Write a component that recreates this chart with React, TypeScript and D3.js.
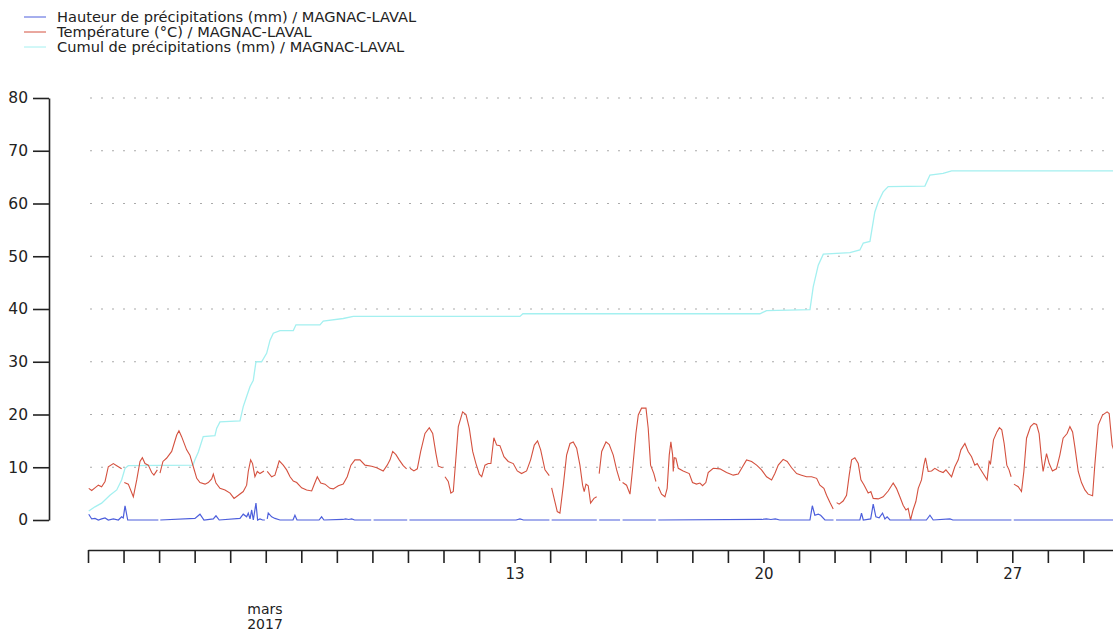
import React, { useEffect, useRef } from "react";
import * as d3 from "d3";

type Pt = [number, number | null];

// hours since 1 March 2017 00:00 UTC
const START_UTC = Date.UTC(2017, 2, 1);
const END_UTC = Date.UTC(2017, 2, 30);

const Y_TICKS = [0, 10, 20, 30, 40, 50, 60, 70, 80];
const GRID_VALUES = [10, 20, 30, 40, 50, 60, 70, 80];
const LABELED_DAYS = [13, 20, 27];
const MONTH_LABEL = ["mars", "2017"];

const SERIES_NAMES = [
  "Hauteur de précipitations (mm) / MAGNAC-LAVAL",
  "Température (°C) / MAGNAC-LAVAL",
  "Cumul de précipitations (mm) / MAGNAC-LAVAL",
];
const SERIES_COLORS = ["#4d5fdc", "#d4513f", "#a4f0f0"];

const precipitation: Pt[] = [
  [0.5, 1.1], [2.5, 0.2], [4.7, 0.3], [7, 0], [9.2, 0.2], [11.5, 0.4], [13.7, 0], [17.1, 0.2],
  [20.5, 0], [22.7, 0.6], [23.8, 0.4], [25, 2.7], [26.8, 0], [47.5, 0], [48, null], [48.8, 0],
  [72.2, 0.3], [75.6, 1.1], [78.3, 0], [84.6, 0.2], [86.4, 0.8], [88.6, 0], [102.6, 0.3],
  [104.8, 1.1], [107.1, 0.6], [108.2, 1.3], [109.4, 0.2], [110.5, 1.9], [111.6, 0], [113.4, 3.2],
  [114.5, 0], [116.1, 0.2], [117.9, 0], [119.4, 0], [120, null], [121, 0.2], [121.7, 1.3],
  [124, 0.6], [126.2, 0.3], [129.6, 0], [138.4, 0], [139.7, 0.9], [141.1, 0], [156, 0],
  [157.7, 0.6], [159.3, 0], [172, 0.1], [174, 0.2], [176, 0.1], [178, 0.2], [180, 0],
  [191.2, 0], [192, null], [192.8, 0], [215.5, 0], [216.2, null], [217, 0], [289, 0],
  [291.6, 0.2], [294, 0], [311.5, 0], [312.2, null], [313, 0], [343.5, 0], [344.3, null],
  [345.1, 0], [359.2, 0], [360, null], [360.9, 0], [383.4, 0], [384.2, null], [385, 0],
  [455, 0.1], [458, 0.2], [461, 0.1], [464, 0.2], [467, 0], [487.4, 0], [489, 2.7], [490.7, 0.9],
  [493, 1.1], [494.6, 0.9], [497.5, 0], [503.3, 0], [504.2, null], [505, 0], [521.1, 0],
  [522.2, 1.3], [523.4, 0], [528.4, 0.2], [530.1, 3.0], [531.9, 0.6], [534.1, 0.4], [536.4, 1.3],
  [538, 0.2], [539.5, 0.6], [541.4, 0], [566, 0], [568.4, 0.9], [570.6, 0], [581.9, 0.2],
  [583.9, 0], [623.4, 0], [624.2, null], [625, 0], [696, 0],
];

const temperature: Pt[] = [
  [0.5, 6.0], [2.5, 5.6], [4.7, 6.1], [7, 6.6], [9.2, 6.3], [11.5, 7.3], [13.7, 10.1], [17.1, 10.7],
  [19.4, 10.3], [22.7, 9.7], [23.6, null], [24.5, 7.1], [27.2, 6.8], [30.6, 4.4], [32.9, 7.6],
  [35.1, 11.1], [36.7, 11.8], [38.5, 10.7], [40.7, 10.4], [43, 9.0], [44.5, 8.5], [46.8, 9.5],
  [47.8, null], [48.6, 8.9], [50.6, 11.1], [53, 11.7], [56.5, 13.0], [59.9, 16.1], [61.4, 16.9],
  [63.2, 15.8], [66.6, 13.3], [68.8, 12.3], [71.1, 10.1], [73.4, 7.9], [75.6, 7.1], [79, 6.8],
  [81.2, 7.1], [83.5, 7.8], [84.6, 8.7], [86.4, 7.0], [89.1, 6.0], [92.5, 5.7], [95.9, 5.1],
  [98.6, 4.1], [101.5, 4.7], [104.8, 5.4], [107.1, 6.6], [108.2, 9.2], [109.8, 11.4], [111.1, 10.7],
  [112.7, 8.2], [114.3, 9.2], [116.1, 8.8], [118.8, 9.3], [120, null], [121, 9.2], [124, 8.2],
  [126.2, 8.5], [129.1, 11.2], [131.8, 10.4], [134.1, 9.5], [136.4, 8.2], [138.6, 7.4], [140.9, 7.1],
  [144.2, 6.1], [147.6, 5.7], [151, 5.5], [152.5, 6.6], [154.8, 8.2], [157.1, 7.0], [160, 6.8],
  [163.4, 6.0], [165.6, 5.9], [169, 6.5], [172.3, 6.8], [175, 8.2], [177.5, 10.4], [180.2, 11.4],
  [183.6, 11.4], [187, 10.4], [191.5, 10.2], [194.9, 9.9], [199.3, 9.3], [202, 10.4], [203.9, 11.4],
  [205.7, 13.0], [207.9, 12.4], [210.1, 11.4], [212.8, 10.3], [215.1, 9.7], [216.3, null],
  [217.4, 9.8], [220, 9.3], [222.3, 9.7], [224.6, 13.0], [227.5, 16.4], [230.4, 17.5], [232.7, 16.4],
  [234.9, 12.6], [236.5, 10.2], [239.4, 9.9], [240.2, null], [241, 8.2], [243.2, 7.3], [245, 5.1],
  [246.6, 5.4], [248.2, 11.1], [250, 17.7], [252.9, 20.5], [255.2, 20.0], [257.4, 17.4],
  [259.7, 13.0], [261.9, 10.7], [264.2, 8.7], [265.8, 8.2], [268, 10.4], [270.2, 10.7], [272, 10.7],
  [274, 15.6], [275.9, 14.2], [278.1, 14.1], [280.8, 12.0], [283.7, 11.1], [287.1, 10.7],
  [289.8, 9.3], [292.7, 8.8], [296.1, 9.3], [298.8, 11.4], [301.3, 14.2], [303.5, 15.0],
  [305.6, 13.3], [308.5, 9.5], [311.4, 8.4], [312.2, null], [313, 6.1], [315.2, 3.5], [316.8, 1.6],
  [318.6, 1.3], [320.9, 6.6], [323.1, 12.3], [325.4, 14.5], [327.6, 14.8], [329.9, 13.6],
  [332.1, 10.4], [333.9, 6.6], [335, 5.4], [336.2, 6.8], [337.7, 6.5], [339.3, 3.2], [341.6, 4.1],
  [343.4, 4.4], [344.3, null], [345.1, 8.8], [346.8, 13.0], [349.7, 14.8], [351.9, 14.3],
  [354.6, 12.3], [356.9, 9.5], [359.1, 7.4], [360, null], [360.9, 7.1], [363.6, 6.6], [365.9, 4.9],
  [367.7, 9.8], [369.9, 16.4], [371.5, 19.9], [373.7, 21.2], [376.7, 21.2], [378.2, 17.4],
  [379.8, 10.4], [382, 8.8], [383.4, 7.3], [384.2, null], [385, 6.3], [387.2, 4.9], [389.5, 4.4],
  [391, 6.0], [392.4, 12.3], [393.5, 14.8], [394.7, 12.3], [395.1, 9.2], [395.8, 11.8],
  [396.9, 11.7], [398.5, 9.8], [401.8, 9.3], [405.9, 8.8], [408.1, 7.1], [410.8, 6.8], [413.1, 7.0],
  [414.9, 6.5], [417.1, 7.1], [418.7, 9.0], [422.1, 9.8], [426.6, 9.7], [431.1, 9.0], [435.6, 8.5],
  [439, 8.7], [441.9, 10.1], [444.6, 11.4], [448, 11.1], [451.4, 10.4], [454.7, 9.5], [458.1, 8.2],
  [461.5, 7.6], [463.7, 8.8], [466, 10.4], [469.3, 11.5], [472, 11.1], [475, 9.9], [478.4, 8.8],
  [481.7, 8.5], [485.1, 8.2], [488.5, 8.2], [491.9, 7.9], [494.1, 6.6], [496.8, 6.0], [498.6, 4.7],
  [500.9, 3.3], [503.1, 2.1], [504.2, null], [505.4, 3.3], [507.1, 3.0], [509.8, 3.6], [512.1, 4.7],
  [513.9, 8.5], [515.5, 11.4], [517.7, 11.8], [520, 10.7], [521.8, 7.6], [524, 6.6], [526.7, 5.1],
  [528.5, 5.4], [530.1, 4.1], [533.5, 4.0], [536.8, 4.4], [540.2, 5.5], [543.6, 7.0], [545.8, 6.0],
  [548.1, 4.4], [550.3, 2.8], [552.2, 1.9], [553.7, 2.2], [555.3, 0.0], [557, 1.9], [558.9, 3.5],
  [560.5, 6.0], [562.7, 7.6], [564.3, 10.4], [565.4, 11.8], [567.2, 9.2], [569.5, 9.3], [571.7, 9.8],
  [574.6, 9.3], [577.3, 9.0], [579.2, 9.5], [580.7, 9.0], [583, 8.2], [585.2, 10.1], [587.5, 11.4],
  [589.3, 13.3], [592, 14.5], [594.2, 13.0], [596.5, 12.0], [598.7, 10.4], [600.3, 10.7],
  [602.1, 9.8], [604.3, 8.8], [607, 7.6], [608.4, 11.1], [609.3, 10.7], [611.3, 15.2], [613.6, 16.7],
  [615.3, 17.5], [616.9, 17.1], [618.5, 14.5], [620.3, 10.4], [621.8, 9.5], [623.2, 8.2],
  [624.2, null], [625.1, 6.8], [628, 6.3], [630.2, 5.4], [631.8, 9.2], [633.6, 15.5], [636.3, 17.7],
  [638.6, 18.3], [640.4, 18.1], [642.1, 16.4], [643.7, 11.7], [644.8, 9.2], [647.1, 12.6],
  [648.9, 10.7], [651.1, 9.3], [653.8, 9.7], [656.1, 12.3], [658.3, 15.5], [661, 16.4], [662.9, 17.7],
  [664.7, 16.7], [666.2, 13.9], [668.5, 9.2], [670.7, 7.1], [673, 5.7], [675.2, 4.9], [678.2, 4.6],
  [679.7, 10.4], [682, 18.0], [684.9, 19.9], [688, 20.5], [689.4, 20.2], [691.4, 14.2], [694, 12.0],
];

const cumulative: Pt[] = [
  [0.5, 1.7], [4.7, 2.5], [9.2, 3.2], [14.8, 4.7], [19.4, 5.7], [22.7, 7.6], [25, 9.8], [27.2, 10.3],
  [70.9, 10.4], [72.2, 11.4], [74.5, 12.9], [77.8, 15.8], [85.7, 16.0], [86.9, 17.4], [89.1, 18.6],
  [102.6, 18.8], [104.8, 21.5], [107.1, 23.4], [109.4, 25.3], [111.6, 26.5], [113.4, 30.0],
  [117.2, 30.0], [120.6, 31.6], [122.9, 34.1], [125.1, 35.4], [129.6, 35.9], [138.6, 35.9],
  [140.4, 37.0], [156.6, 37.0], [158.8, 37.7], [172.3, 38.2], [179.1, 38.6], [291.6, 38.6],
  [293.6, 39.1], [453.6, 39.1], [458.1, 39.7], [487.4, 39.9], [489.6, 44.2], [493, 48.3],
  [496.4, 50.4], [514.4, 50.7], [521.1, 51.2], [523.4, 52.5], [527.9, 52.8], [531.2, 58.4],
  [533.5, 60.3], [536.8, 62.2], [540.2, 63.2], [565, 63.3], [568.4, 65.4], [577.3, 65.7],
  [583, 66.2], [696, 66.2],
];

export default function App() {
  const W = 1113;
  const H = 632;
  const xAxisRef = useRef<SVGGElement>(null);
  const yAxisRef = useRef<SVGGElement>(null);

  const x = d3
    .scaleUtc()
    .domain([new Date(START_UTC), new Date(END_UTC)])
    .range([88, 88 + 29 * 35.55]);
  const y = d3.scaleLinear().domain([0, 80]).range([520, 98]);
  const toDate = (h: number) => new Date(START_UTC + h * 3600 * 1000);

  const line = d3
    .line<Pt>()
    .defined((d) => d[1] != null)
    .x((d) => x(toDate(d[0])))
    .y((d) => y(d[1] as number));

  useEffect(() => {
    const font = "'DejaVu Sans', sans-serif";
    if (yAxisRef.current) {
      const g = d3.select(yAxisRef.current);
      g.selectAll("*").remove();
      g.call(
        d3.axisLeft(y).tickValues(Y_TICKS).tickSize(16).tickSizeOuter(0).tickPadding(5).tickFormat(d3.format("d"))
      );
      g.select(".domain").attr("stroke", "#222").attr("stroke-width", 1.6);
      g.selectAll(".tick line").attr("stroke", "#222").attr("stroke-width", 1.6);
      g.selectAll(".tick text").attr("fill", "#222").style("font-size", "15.5px").style("font-family", font);
    }
    if (xAxisRef.current) {
      const g = d3.select(xAxisRef.current);
      g.selectAll("*").remove();
      g.call(
        d3
          .axisBottom(x)
          .ticks(d3.utcDay.every(1) as any)
          .tickSize(13)
          .tickSizeOuter(0)
          .tickPadding(5)
          .tickFormat((d: any) => {
            const day = (d as Date).getUTCDate();
            return LABELED_DAYS.includes(day) ? String(day) : "";
          })
      );
      g.select(".domain").attr("stroke", "#222").attr("stroke-width", 1.6);
      g.selectAll(".tick line").attr("stroke", "#222").attr("stroke-width", 1.6);
      g.selectAll(".tick text").attr("fill", "#222").style("font-size", "15px").style("font-family", font);
    }
  }, []);

  const gridX0 = x(new Date(START_UTC));
  const font = "'DejaVu Sans', sans-serif";

  return (
    <>
      <style>{"body{margin:0}"}</style>
      <svg width={W} height={H} style={{ display: "block", background: "#fff" }}>
        {/* legend */}
        {SERIES_NAMES.map((name, i) => (
          <g key={name}>
            <line x1={24} x2={46} y1={17 + i * 15} y2={17 + i * 15} stroke={SERIES_COLORS[i]} strokeWidth={1} />
            <text x={57} y={22 + i * 15} fontFamily={font} fontSize={14.6} fill="#222">
              {name}
            </text>
          </g>
        ))}
        {/* grid */}
        {GRID_VALUES.map((v) => (
          <line
            key={v}
            x1={gridX0 + 2}
            x2={W}
            y1={y(v)}
            y2={y(v)}
            stroke="#aaa"
            strokeWidth={1.2}
            strokeDasharray="2 9"
          />
        ))}
        {/* series, cumul first so the others overlay it */}
        <path d={line(cumulative) || ""} fill="none" stroke={SERIES_COLORS[2]} strokeWidth={1.3} />
        <path d={line(temperature) || ""} fill="none" stroke={SERIES_COLORS[1]} strokeWidth={1.1} />
        <path d={line(precipitation) || ""} fill="none" stroke={SERIES_COLORS[0]} strokeWidth={1.2} />
        {/* axes */}
        <g ref={yAxisRef} transform="translate(49,0)" />
        <g ref={xAxisRef} transform="translate(0,550)" />
        <text x={265} y={614} textAnchor="middle" fontFamily={font} fontSize={14} fill="#222">
          {MONTH_LABEL[0]}
        </text>
        <text x={265} y={629} textAnchor="middle" fontFamily={font} fontSize={14} fill="#222">
          {MONTH_LABEL[1]}
        </text>
      </svg>
    </>
  );
}
